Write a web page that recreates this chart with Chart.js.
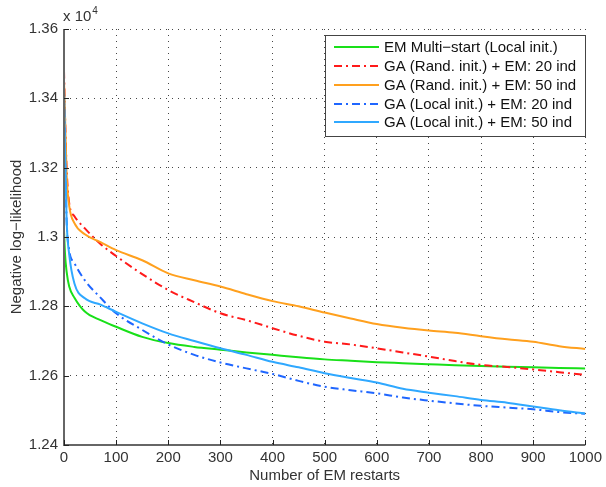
<!DOCTYPE html>
<html>
<head>
<meta charset="utf-8">
<script src="https://cdn.jsdelivr.net/npm/chart.js@4/dist/chart.umd.min.js"></script>
<style>
html,body{margin:0;padding:0;background:#fff;}
#wrap{width:606px;height:487px;position:relative;}
</style>
</head>
<body>
<div id="wrap"><canvas id="c" width="606" height="487"></canvas></div>
<script>
// ---- data (values in units of 10^4) ----
const xs = [0, 2, 5, 10, 20, 40, 70, 100, 150, 200, 250, 300, 350, 400, 450, 500, 550, 600, 650, 700, 750, 800, 850, 900, 950, 1000];
const emMultiStart = [1.302, 1.295, 1.290, 1.2857, 1.2825, 1.2785, 1.2760, 1.2741, 1.2712, 1.2694, 1.2683, 1.2675, 1.2667, 1.2660, 1.2653, 1.2647, 1.2643, 1.2639, 1.2636, 1.2633, 1.2630, 1.2628, 1.2626, 1.2624, 1.2622, 1.2621];
const gaRand20 = [1.348, 1.335, 1.320, 1.3097, 1.306, 1.3025, 1.298, 1.2945, 1.2893, 1.2847, 1.2812, 1.2780, 1.2760, 1.2737, 1.2715, 1.2698, 1.2690, 1.2679, 1.2667, 1.2655, 1.2642, 1.2631, 1.2625, 1.2618, 1.2610, 1.2602];
const gaRand50 = [1.345, 1.335, 1.318, 1.309, 1.304, 1.3008, 1.2985, 1.2962, 1.2933, 1.2895, 1.2875, 1.2857, 1.2835, 1.2815, 1.2800, 1.2782, 1.2765, 1.2749, 1.2738, 1.2730, 1.2724, 1.2714, 1.2705, 1.2698, 1.2685, 1.2677];
const gaLocal20 = [1.342, 1.325, 1.305, 1.2962, 1.2925, 1.2875, 1.2825, 1.2780, 1.2732, 1.2690, 1.2660, 1.2638, 1.2621, 1.2605, 1.2585, 1.2568, 1.2558, 1.2549, 1.2537, 1.2528, 1.2520, 1.2513, 1.2508, 1.2503, 1.2495, 1.2490];
const gaLocal50 = [1.343, 1.325, 1.305, 1.295, 1.2866, 1.2823, 1.2805, 1.2784, 1.2751, 1.2722, 1.2700, 1.2679, 1.2660, 1.2640, 1.2624, 1.2607, 1.2593, 1.2580, 1.2562, 1.2551, 1.2541, 1.2530, 1.2522, 1.2511, 1.2500, 1.2491];
const seriesLabels = ["EM Multi\u2212start (Local init.)", "GA (Rand. init.) + EM: 20 ind", "GA (Rand. init.) + EM: 50 ind", "GA (Local init.) + EM: 20 ind", "GA (Local init.) + EM: 50 ind"];
const xTicks = [0, 100, 200, 300, 400, 500, 600, 700, 800, 900, 1000];
const yTicks = [1.24, 1.26, 1.28, 1.3, 1.32, 1.34, 1.36];
const yTickLabels = ["1.24", "1.26", "1.28", "1.3", "1.32", "1.34", "1.36"];

const FONT = "'Liberation Sans', Arial, sans-serif";
const TXT = '#333333';
const DASHDOT = [8, 4, 2, 4];

function pts(arr){ return xs.map((x,i)=>({x:x, y:arr[i]})); }

const styles = [
  {color:'#19e019', dash:[]},
  {color:'#ff1a1a', dash:DASHDOT},
  {color:'#ffa01e', dash:[]},
  {color:'#1f66ff', dash:DASHDOT},
  {color:'#2fa8ff', dash:[]}
];
const allSeries = [emMultiStart, gaRand20, gaRand50, gaLocal20, gaLocal50];

const datasets = allSeries.map((s,i)=>({
  label: seriesLabels[i],
  data: pts(s),
  borderColor: styles[i].color,
  backgroundColor: styles[i].color,
  borderDash: styles[i].dash,
  borderWidth: 2,
  pointRadius: 0,
  fill: false,
  cubicInterpolationMode: 'monotone',
  order: 5 - i
}));

const overlay = {
  id: 'overlay',
  afterDraw(chart){
    const ctx = chart.ctx;
    const a = chart.chartArea;
    const xs_ = chart.scales.x, ys_ = chart.scales.y;
    ctx.save();
    // axes lines
    ctx.strokeStyle = '#666';
    ctx.lineWidth = 2;
    ctx.setLineDash([]);
    ctx.beginPath();
    ctx.moveTo(a.left, a.top);
    ctx.lineTo(a.left, a.bottom);
    ctx.lineTo(a.right, a.bottom);
    ctx.stroke();
    // inward ticks
    ctx.strokeStyle = '#222';
    ctx.lineWidth = 1;
    ctx.beginPath();
    yTicks.forEach(v=>{
      const y = Math.round(ys_.getPixelForValue(v))+0.5;
      ctx.moveTo(a.left, y); ctx.lineTo(a.left+5, y);
    });
    xTicks.forEach(v=>{
      const x = Math.round(xs_.getPixelForValue(v))+0.5;
      ctx.moveTo(x, a.bottom); ctx.lineTo(x, a.bottom-5);
    });
    ctx.stroke();
    // exponent label
    ctx.fillStyle = TXT;
    ctx.textBaseline = 'alphabetic';
    ctx.textAlign = 'left';
    ctx.font = '15px ' + FONT;
    ctx.fillText('x 10', a.left - 1, a.top - 8);
    const w = ctx.measureText('x 10').width;
    ctx.font = '10px ' + FONT;
    ctx.fillText('4', a.left - 1 + w + 1, a.top - 15);
    // legend box
    const bx = 325, by = 35, bw = 260, bh = 101;
    ctx.fillStyle = '#fff';
    ctx.fillRect(bx, by, bw, bh);
    ctx.strokeStyle = '#444';
    ctx.lineWidth = 1;
    ctx.strokeRect(bx+0.5, by+0.5, bw, bh);
    const rowY = [47, 66, 85, 104, 122];
    chart.data.datasets.forEach((ds,i)=>{
      const y = rowY[i];
      ctx.strokeStyle = ds.borderColor;
      ctx.lineWidth = 2;
      ctx.setLineDash(ds.borderDash || []);
      ctx.beginPath();
      ctx.moveTo(334, y); ctx.lineTo(379, y);
      ctx.stroke();
      ctx.setLineDash([]);
      ctx.fillStyle = '#111';
      ctx.font = '15px ' + FONT;
      ctx.textBaseline = 'middle';
      ctx.textAlign = 'left';
      ctx.fillText(ds.label, 384, y + 1);
    });
    ctx.restore();
  }
};

new Chart(document.getElementById('c'), {
  type: 'line',
  data: { datasets: datasets },
  plugins: [overlay],
  options: {
    responsive: false,
    animation: false,
    devicePixelRatio: 1,
    layout: { padding: { left: 0, top: 29, right: 18, bottom: 0 } },
    plugins: { legend: { display: false }, tooltip: { enabled: false } },
    scales: {
      x: {
        type: 'linear',
        min: 0, max: 1000,
        afterBuildTicks(scale){ scale.ticks = xTicks.map(v=>({value:v})); },
        afterFit(scale){ scale.height = 42; },
        grid: { color: 'rgba(50,50,50,0.9)', lineWidth: 1, drawTicks: false },
        border: { display: false, dash: [1,5] },
        ticks: { color: TXT, font: { family: FONT, size: 15 }, padding: 4, maxRotation: 0,
                 callback: (v)=> String(v) },
        title: { display: true, text: 'Number of EM restarts', color: TXT, font: { family: FONT, size: 15 }, padding: { top: 0, bottom: 2 } }
      },
      y: {
        type: 'linear',
        min: 1.24, max: 1.36,
        afterBuildTicks(scale){ scale.ticks = yTicks.map(v=>({value:v})); },
        afterFit(scale){ scale.width = 64; },
        grid: { color: 'rgba(50,50,50,0.9)', lineWidth: 1, drawTicks: false },
        border: { display: false, dash: [1,5] },
        ticks: { color: TXT, font: { family: FONT, size: 15 }, padding: 6,
                 callback: (v)=> { const k = yTicks.findIndex(t=>Math.abs(t-v)<1e-9); return k>=0 ? yTickLabels[k] : ''; } },
        title: { display: true, text: 'Negative log\u2212likelihood', color: TXT, font: { family: FONT, size: 15 }, padding: { top: 8, bottom: 4 } }
      }
    }
  }
});
</script>
</body>
</html>
